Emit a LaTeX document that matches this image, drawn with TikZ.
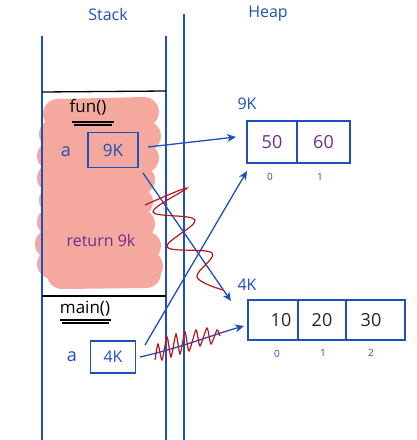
\documentclass[tikz,border=0pt]{standalone}
\usepackage{fontspec}
\setmainfont{Open Sans}
\usetikzlibrary{arrows.meta}
\definecolor{pen}{HTML}{1E4FBE}
\definecolor{ink}{HTML}{6A2D92}
\definecolor{redpen}{HTML}{B3181E}
\definecolor{blob}{HTML}{F5A99E}
\tikzset{
  wall/.style={pen, line width=1.3pt},
  divline/.style={black, line width=1.3pt},
  cellbox/.style={draw=pen, line width=1.3pt, minimum height=35pt, inner sep=0pt},
  lbl/.style={pen, font=\fontsize{16}{18}\selectfont, inner sep=0pt},
  val/.style={font=\fontsize{18}{20}\selectfont, inner sep=0pt},
  idx/.style={pen, font=\fontsize{10}{11}\selectfont, inner sep=0pt},
  ptr/.style={pen, line width=1.3pt, -{Stealth[length=9pt,width=8pt]}},
  cross/.style={redpen, line width=1.2pt},
  blobstroke/.style={blob, line width=30pt, line cap=round, line join=round}
}
\begin{document}
\begin{tikzpicture}[x=1pt,y=-1pt]
\useasboundingbox (0,0) rectangle (417,440);
\fill[white] (0,0) rectangle (417,440);

% pink scribble over the fun() frame
\draw[blobstroke] (58,114) -- (144,112) -- (54,134) -- (146,136) -- (52,156) -- (144,158)
  -- (52,178) -- (140,180) -- (54,200) -- (138,202) -- (52,222) -- (140,224)
  -- (50,244) -- (146,246) -- (52,264) -- (148,266) -- (62,274) -- (146,273);

% walls
\draw[wall] (42,36) -- (42,440);
\draw[wall] (166,36) -- (166,440);
\draw[wall] (184,14) -- (184,440);
\draw[divline] (42,92) -- (166,91);
\draw[divline] (42,296) -- (166,296);

% titles
\node[lbl] (stack) at (108,14) {Stack};
\node[lbl] (heap) at (268,14) {Heap};

% fun() frame
\node[black, font=\fontsize{17}{19}\selectfont, inner sep=0pt] (fun) at (88,107) {fun()};
\draw[black, line width=1.1pt] (72,122) -- (114,122);
\draw[black, line width=1.1pt] (74,125) -- (112,125);
\node[lbl, font=\fontsize{18}{20}\selectfont] (afun) at (66,152) {a};
\node[cellbox, minimum width=50pt, lbl, font=\fontsize{17}{19}\selectfont, inner sep=0pt] (boxfun) at (113,150) {9K};
\node[ink, font=\fontsize{16}{18}\selectfont, inner sep=0pt] (ret) at (101,240) {return 9k};

% main() frame
\node[black, font=\fontsize{17}{19}\selectfont, inner sep=0pt] (main) at (85,309) {main()};
\draw[black, line width=1.1pt] (60,320) -- (111,320);
\draw[black, line width=1.1pt] (62,323) -- (109,323);
\node[lbl, font=\fontsize{18}{20}\selectfont] (amain) at (72,357) {a};
\node[cellbox, minimum width=45pt, minimum height=32pt, lbl, font=\fontsize{16}{18}\selectfont] (boxmain) at (113,357) {4K};

% heap array at 9K
\node[lbl] (lab9) at (247,104) {9K};
\node[cellbox, minimum width=50pt, minimum height=42pt] (c50) at (272,142) {};
\node[cellbox, minimum width=53pt, minimum height=42pt] (c60) at (323.5,142) {};
\node[val, ink] (v50) at (c50) {50};
\node[val, ink] (v60) at (c60) {60};
\node[idx] (i90) at (270,177) {0};
\node[idx] (i91) at (320,177) {1};

% heap array at 4K
\node[lbl] (lab4) at (247,285) {4K};
\node[cellbox, minimum width=50pt, minimum height=40pt] (c10) at (273,320) {};
\node[cellbox, minimum width=48pt, minimum height=40pt] (c20) at (322,320) {};
\node[cellbox, minimum width=59pt, minimum height=40pt] (c30) at (375.5,320) {};
\node[val, black!85] (v10) at (281,320) {10};
\node[val, black!85] (v20) at (c20) {20};
\node[val, black!85] (v30) at (371,320) {30};
\node[idx] (i40) at (277,354) {0};
\node[idx] (i41) at (323,353) {1};
\node[idx] (i42) at (371,353) {2};

% pointer end points
\coordinate (s1) at (148,147);
\coordinate (t1) at (236,137);
\coordinate (s2) at (143,173);
\coordinate (t2) at (231,301);
\coordinate (s3) at (145,345);
\coordinate (t3) at (247,171);
\coordinate (s4) at (140,357);
\coordinate (t4) at (244,326);

\draw[ptr] (s1) -- (t1);
\draw[ptr] (s2) -- (t2);
\draw[ptr] (s3) -- (t3);
\draw[ptr] (s4) .. controls (180,348) and (215,334) .. (t4);

% red cancel squiggles
\draw[cross] plot[smooth, tension=0.6] coordinates {(145,205) (187,188) (153,212) (195,220) (167,247) (212,253) (197,277) (223,290)};
\draw[cross] plot[smooth, tension=0.4] coordinates {(155,360) (158,344) (162,360) (167,337) (171,357) (176,334) (180,354) (185,332) (189,351) (196,330) (200,346) (207,328) (211,344) (217,330) (220,336)};
\end{tikzpicture}
\end{document}
